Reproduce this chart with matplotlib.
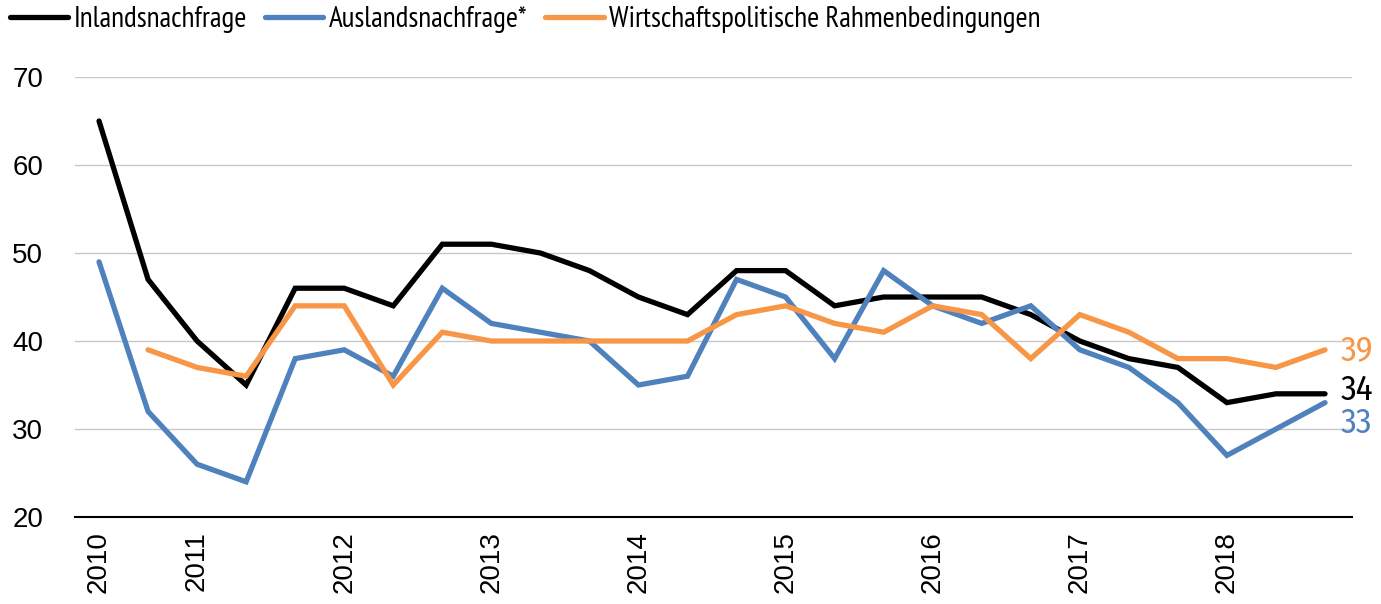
import numpy as np
import matplotlib
matplotlib.use("Agg")
import matplotlib.pyplot as plt

# survey rounds: 2010 has two, later years three
years = ["2010", "2011", "2012", "2013", "2014", "2015", "2016", "2017", "2018"]
year_pos = [0, 2, 5, 8, 11, 14, 17, 20, 23]

inland = [65, 47, 40, 35, 46, 46, 44, 51, 51, 50, 48, 45, 43, 48, 48, 44, 45, 45, 45, 43,
          40, 38, 37, 33, 34, 34]
ausland = [49, 32, 26, 24, 38, 39, 36, 46, 42, 41, 40, 35, 36, 47, 45, 38, 48, 44, 42, 44,
           39, 37, 33, 27, 30, 33]
rahmen = [np.nan, 39, 37, 36, 44, 44, 35, 41, 40, 40, 40, 40, 40, 43, 44, 42, 41, 44, 43, 38,
          43, 41, 38, 38, 37, 39]

names = ["Inlandsnachfrage", "Auslandsnachfrage*", "Wirtschaftspolitische Rahmenbedingungen"]
colors = ["#000000", "#4F81BD", "#F79646"]

narrow = ["PT Sans Narrow", "DejaVu Sans"]
plt.rcParams["font.family"] = ["Liberation Sans", "DejaVu Sans"]

fig = plt.figure(figsize=(13.81, 6.04), dpi=100)
ax = fig.add_axes([0.0543, 0.144, 0.9247, 0.7285])

x = np.arange(len(inland))
lines = []
for vals, c in zip([inland, ausland, rahmen], colors):
    l, = ax.plot(x, vals, color=c, lw=3.8, solid_capstyle="round", solid_joinstyle="miter")
    lines.append(l)

ax.set_ylim(20, 70)
ax.set_xlim(-0.49, 25.55)
ax.set_yticks([20, 30, 40, 50, 60, 70])
ax.set_xticks(year_pos)
ax.set_xticklabels(years, rotation=90)
ax.tick_params(axis="both", length=0, labelsize=20)
ax.tick_params(axis="y", pad=23)
ax.tick_params(axis="x", pad=10)
ax.grid(axis="y", color="#c8c8c8", lw=1)
ax.set_axisbelow(True)
for s in ["top", "right", "left"]:
    ax.spines[s].set_visible(False)
ax.spines["bottom"].set_linewidth(1.5)

# end-of-line value labels
last = len(inland) - 1
for val, c, dy in [(rahmen[-1], colors[2], 0), (inland[-1], colors[0], 3), (ausland[-1], colors[1], -15)]:
    ax.annotate(str(int(val)), xy=(last, val), xytext=(11, dy), textcoords="offset points",
                va="center", ha="left", color=c, fontsize=25,
                family=["Fira Sans Condensed", "DejaVu Sans"], annotation_clip=False)

fig.legend(lines, names, loc="center left", bbox_to_anchor=(10 / 1381, 0.968), ncol=3,
           frameon=False, borderpad=0, borderaxespad=0, handlelength=2.0,
           handletextpad=0.2, columnspacing=0.6,
           prop={"family": narrow, "size": 21})

fig.savefig("out.png", dpi=100)
